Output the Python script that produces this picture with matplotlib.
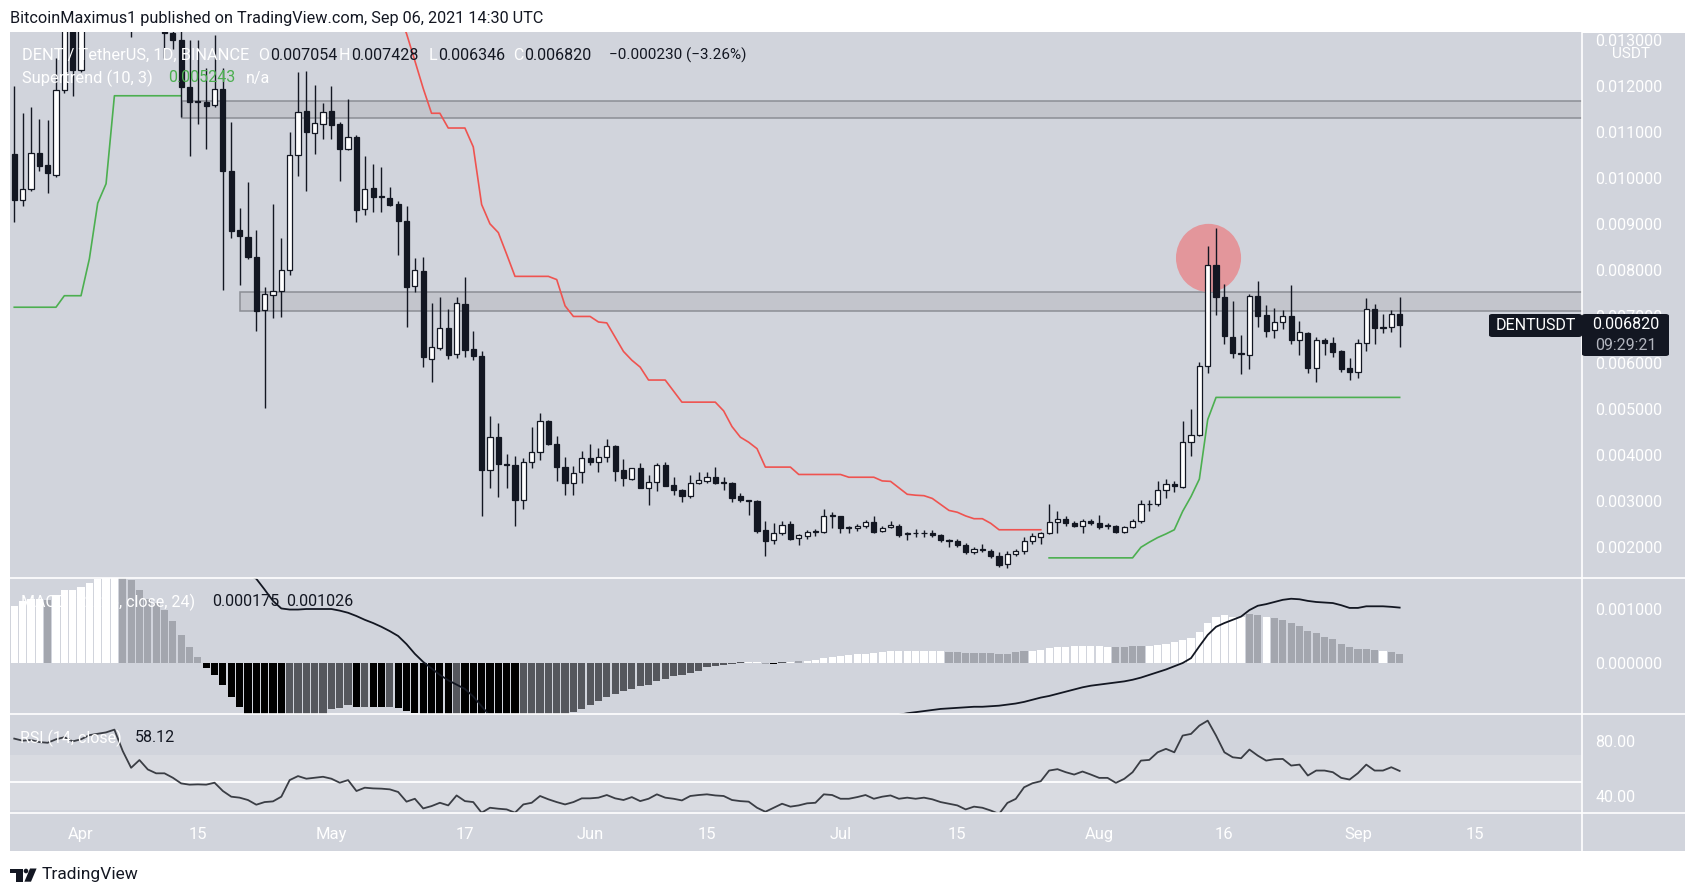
import numpy as np
import pandas as pd
import matplotlib
matplotlib.use("Agg")
import matplotlib.pyplot as plt
from matplotlib.patches import Rectangle, Ellipse, Polygon, Circle, FancyBboxPatch
from matplotlib.lines import Line2D

W, H = 1695, 889
plt.rcParams['font.family'] = ['Roboto', 'DejaVu Sans']

# ---- data (prices in 1e-3 USDT), one bar per day from 2021-03-24 to 2021-09-06 ----
start = "2021-03-24"
n_days = 167

opens = [10.53, 9.52, 9.77, 10.55, 10.28, 10.07, 11.91, 13.50,
         # April
         12.35, 13.70, 14.80, 15.50, 16.40, 17.00, 15.00, 13.60, 14.30, 13.80,
         14.00, 13.15, 13.00, 11.97, 11.66, 11.66, 11.59, 11.93, 10.15, 8.87,
         8.73, 8.30, 7.13, 7.47, 7.56, 8.00, 10.51, 11.45, 10.98, 11.17,
         # May
         11.45, 11.17, 10.64, 10.90, 9.33, 9.79, 9.60, 9.58, 9.43, 9.08,
         7.67, 7.98, 6.07, 6.31, 6.75, 6.18, 7.28, 6.30, 6.15, 3.66,
         4.38, 3.80, 3.78, 3.01, 3.83, 4.05, 4.74, 4.23, 3.74, 3.38, 3.62,
         # June
         3.93, 3.85, 3.95, 4.19, 3.66, 3.47, 3.71, 3.28, 3.41, 3.77,
         3.34, 3.24, 3.11, 3.39, 3.43, 3.52, 3.39, 3.38, 3.10, 3.00,
         2.99, 2.37, 2.14, 2.31, 2.50, 2.20, 2.24, 2.33, 2.33, 2.69,
         # July
         2.66, 2.41, 2.41, 2.45, 2.54, 2.35, 2.43, 2.46, 2.27, 2.29,
         2.29, 2.30, 2.26, 2.14, 2.13, 2.05, 1.88, 1.95, 1.91, 1.81,
         1.63, 1.84, 1.90, 2.13, 2.22, 2.29, 2.54, 2.61, 2.51, 2.46, 2.57,
         # August
         2.52, 2.45, 2.45, 2.33, 2.44, 2.56, 2.92, 2.92, 3.24, 3.37,
         3.29, 4.28, 4.42, 5.92, 8.12, 7.43, 6.56, 6.20, 6.16, 7.45,
         7.03, 6.71, 6.88, 7.01, 6.48, 6.63, 5.88, 6.48, 6.43, 6.25, 5.88,
         # September
         5.80, 6.43, 7.17, 6.77, 6.77, 7.054]
highs = [12.01, 11.42, 11.54, 11.28, 11.26, 12.61, 14.10, 13.90,
         14.30, 15.20, 16.00, 17.20, 17.60, 17.30, 15.40, 14.80, 14.60, 14.30,
         14.30, 13.40, 13.30, 12.99, 12.99, 12.39, 13.10, 12.39, 11.21, 9.35,
         9.92, 8.88, 7.64, 9.43, 8.71, 11.00, 12.31, 12.32, 12.02, 11.63,
         12.00, 11.21, 11.72, 10.94, 10.49, 10.30, 10.24, 9.80, 9.50, 9.39,
         8.27, 8.29, 7.30, 7.42, 7.17, 7.42, 7.85, 6.69, 6.25, 4.85,
         4.68, 4.02, 3.98, 3.93, 4.61, 4.91, 4.76, 4.40, 3.95, 3.75, 4.08,
         4.23, 4.15, 4.33, 4.20, 3.90, 3.72, 3.81, 3.55, 3.81, 3.85,
         3.52, 3.25, 3.55, 3.62, 3.62, 3.73, 3.52, 3.41, 3.17, 3.02,
         3.01, 2.56, 2.52, 2.56, 2.56, 2.27, 2.37, 2.39, 2.83, 2.76,
         2.67, 2.46, 2.50, 2.58, 2.67, 2.46, 2.56, 2.50, 2.33, 2.38,
         2.37, 2.37, 2.27, 2.16, 2.16, 2.08, 2.00, 2.06, 1.95, 1.88,
         1.91, 1.95, 2.22, 2.29, 2.33, 2.94, 2.77, 2.66, 2.56, 2.60, 2.60,
         2.69, 2.52, 2.48, 2.46, 2.61, 3.01, 3.01, 3.42, 3.47, 3.43,
         4.72, 5.00, 6.01, 8.53, 8.93, 7.70, 7.34, 6.60, 7.49, 7.76,
         7.24, 7.19, 7.13, 7.68, 6.91, 6.66, 6.56, 6.54, 6.56, 6.28, 6.09,
         6.50, 7.39, 7.28, 7.06, 7.15, 7.428]
lows = [9.05, 9.39, 9.73, 10.15, 9.69, 10.03, 11.85, 11.78,
        12.30, 13.40, 14.20, 15.00, 15.80, 14.60, 13.07, 13.30, 13.50, 13.40,
        12.60, 12.80, 11.32, 10.49, 11.17, 10.64, 11.55, 7.57, 8.71, 7.68,
        8.25, 6.69, 5.01, 6.96, 6.98, 7.91, 10.05, 9.73, 10.53, 10.85,
        10.85, 9.94, 10.62, 9.06, 9.21, 9.26, 9.26, 9.39, 8.33, 6.77,
        7.53, 5.90, 5.57, 6.28, 6.07, 6.10, 6.13, 6.05, 2.67, 3.27,
        3.09, 3.27, 2.46, 2.83, 3.70, 3.89, 4.20, 3.43, 3.13, 3.13, 3.39,
        3.77, 3.62, 3.85, 3.43, 3.32, 3.46, 3.27, 2.90, 3.22, 3.31,
        3.13, 2.98, 3.05, 3.36, 3.39, 3.36, 3.24, 2.98, 2.98, 2.69,
        2.29, 1.80, 2.07, 2.26, 2.14, 2.05, 2.18, 2.23, 2.29, 2.41,
        2.29, 2.29, 2.35, 2.41, 2.29, 2.33, 2.41, 2.22, 2.14, 2.22,
        2.22, 2.22, 2.10, 1.99, 2.00, 1.85, 1.84, 1.88, 1.76, 1.57,
        1.55, 1.80, 1.85, 2.07, 2.07, 2.27, 2.31, 2.46, 2.43, 2.29, 2.48,
        2.38, 2.38, 2.29, 2.31, 2.41, 2.52, 2.77, 2.89, 3.05, 3.20,
        3.28, 3.98, 4.40, 5.77, 7.04, 6.41, 6.09, 5.75, 5.86, 6.77,
        6.56, 6.54, 6.73, 6.41, 6.16, 5.77, 5.57, 6.16, 6.13, 5.80, 5.62,
        5.67, 6.25, 6.41, 6.63, 6.66, 6.346]
closes = [9.52, 9.77, 10.55, 10.26, 10.11, 11.91, 13.50, 12.35,
          13.70, 14.80, 15.50, 16.40, 17.00, 15.00, 13.60, 14.30, 13.80, 14.00,
          13.15, 13.00, 11.97, 11.66, 11.65, 11.57, 11.93, 10.15, 8.86, 8.74,
          8.30, 7.11, 7.48, 7.56, 8.00, 10.50, 11.44, 11.00, 11.19, 11.44,
          11.16, 10.64, 10.90, 9.31, 9.77, 9.60, 9.59, 9.41, 9.08, 7.64,
          8.00, 6.11, 6.33, 6.75, 6.16, 7.30, 6.28, 6.14, 3.66, 4.38,
          3.80, 3.78, 3.01, 3.83, 4.05, 4.72, 4.23, 3.74, 3.38, 3.60, 3.93,
          3.85, 3.96, 4.19, 3.64, 3.49, 3.70, 3.28, 3.41, 3.77, 3.32,
          3.24, 3.11, 3.39, 3.45, 3.52, 3.39, 3.38, 3.07, 3.01, 2.99,
          2.35, 2.13, 2.31, 2.48, 2.18, 2.26, 2.33, 2.32, 2.67, 2.66,
          2.41, 2.40, 2.46, 2.54, 2.33, 2.41, 2.48, 2.26, 2.29, 2.29,
          2.29, 2.26, 2.14, 2.13, 2.03, 1.88, 1.95, 1.94, 1.80, 1.61,
          1.84, 1.91, 2.13, 2.23, 2.29, 2.54, 2.61, 2.51, 2.46, 2.57, 2.51,
          2.43, 2.45, 2.33, 2.43, 2.57, 2.92, 2.93, 3.24, 3.36, 3.32,
          4.28, 4.42, 5.92, 8.12, 7.43, 6.58, 6.20, 6.18, 7.45, 7.01,
          6.68, 6.88, 7.01, 6.48, 6.66, 5.88, 6.48, 6.43, 6.22, 5.86, 5.80,
          6.43, 7.17, 6.75, 6.75, 7.05, 6.820]

# Supertrend (10, 3) value per day; trend flips to down on day 13 and back up on day 116
supertrend = [7.20, 7.20, 7.20, 7.20, 7.20, 7.20, 7.45, 7.45,
              7.45, 8.25, 9.46, 9.88, 11.79, 11.79, 11.79, 11.79, 11.79, 11.79,
              11.79, 11.79, 11.79, 16.8, 16.8, 16.8, 16.8, 16.3, 16.3, 16.3,
              16.3, 15.4, 15.4, 15.4, 15.4, 15.0, 15.0, 15.0, 15.0, 15.0,
              15.0, 14.6, 14.6, 14.6, 14.6, 14.6, 14.2, 13.9, 13.6, 13.14,
              12.55, 11.95, 11.41, 11.41, 11.09, 11.09, 11.09, 10.68, 9.43, 9.01,
              8.82, 8.35, 7.87, 7.87, 7.87, 7.87, 7.87, 7.80, 7.23, 7.00, 7.00,
              7.00, 6.88, 6.86, 6.55, 6.24, 6.05, 5.90, 5.62, 5.62, 5.62,
              5.38, 5.14, 5.14, 5.14, 5.14, 5.14, 4.95, 4.61, 4.38, 4.27,
              4.13, 3.73, 3.73, 3.73, 3.73, 3.57, 3.57, 3.57, 3.57, 3.57,
              3.57, 3.51, 3.51, 3.51, 3.51, 3.43, 3.42, 3.28, 3.14, 3.12,
              3.11, 3.05, 2.92, 2.79, 2.75, 2.67, 2.61, 2.61, 2.51, 2.37,
              2.37, 2.37, 2.37, 2.37, 2.37, 1.76, 1.76, 1.76, 1.76, 1.76, 1.76,
              1.76, 1.76, 1.76, 1.76, 1.76, 1.99, 2.10, 2.20, 2.28, 2.37,
              2.77, 3.09, 3.47, 4.76, 5.243, 5.243, 5.243, 5.243, 5.243, 5.243,
              5.243, 5.243, 5.243, 5.243, 5.243, 5.243, 5.243, 5.243, 5.243, 5.243, 5.243,
              5.243, 5.243, 5.243, 5.243, 5.243, 5.243]
flip_down, flip_up = 13, 116

# MACD panel (values in 1e-3)
macd_line = [2.20, 2.30, 2.40, 2.45, 2.50, 2.60, 2.75, 2.85,
             2.95, 3.05, 3.10, 3.15, 3.20, 3.10, 2.95, 2.85, 2.70, 2.55,
             2.40, 2.28, 2.18, 2.08, 2.00, 1.92, 1.85, 1.79, 1.74, 1.70,
             1.64, 1.56, 1.36, 1.15, 1.01, 0.99, 0.99, 1.00, 1.00, 1.00,
             1.00, 0.97, 0.93, 0.87, 0.80, 0.74, 0.67, 0.59, 0.50, 0.35,
             0.17, 0.02, -0.10, -0.22, -0.32, -0.40, -0.48, -0.62, -0.80, -0.98,
             -1.10, -1.20, -1.30, -1.38, -1.45, -1.50, -1.53, -1.56, -1.58, -1.59, -1.60,
             -1.60, -1.59, -1.58, -1.56, -1.54, -1.52, -1.50, -1.47, -1.44, -1.41,
             -1.38, -1.35, -1.32, -1.29, -1.26, -1.23, -1.20, -1.18, -1.16, -1.14,
             -1.13, -1.12, -1.11, -1.10, -1.09, -1.08, -1.07, -1.06, -1.05, -1.04,
             -1.03, -1.02, -1.01, -1.00, -0.99, -0.98, -0.97, -0.96, -0.93, -0.91,
             -0.89, -0.87, -0.85, -0.84, -0.83, -0.82, -0.81, -0.81, -0.80, -0.79,
             -0.77, -0.75, -0.72, -0.68, -0.64, -0.61, -0.57, -0.53, -0.49, -0.45, -0.42,
             -0.40, -0.38, -0.36, -0.34, -0.31, -0.27, -0.22, -0.17, -0.12, -0.06,
             0.00, 0.09, 0.31, 0.52, 0.67, 0.74, 0.80, 0.86, 0.98, 1.06,
             1.09, 1.13, 1.17, 1.19, 1.18, 1.15, 1.13, 1.12, 1.11, 1.07, 1.02,
             1.02, 1.05, 1.05, 1.05, 1.04, 1.026]
macd_hist = [1.06, 1.15, 1.18, 1.18, 1.17, 1.25, 1.35, 1.36,
             1.41, 1.49, 1.56, 1.62, 1.65, 1.62, 1.54, 1.36, 1.19, 1.12,
             0.98, 0.77, 0.52, 0.30, 0.11, -0.09, -0.22, -0.41, -0.63, -0.81,
             -1.00, -1.08, -1.14, -1.18, -1.20, -1.15, -1.10, -1.04, -0.98, -0.94,
             -0.86, -0.83, -0.78, -0.81, -0.81, -0.82, -0.82, -0.82, -0.83, -0.88,
             -0.92, -1.00, -1.06, -1.10, -1.12, -1.10, -1.13, -1.16, -1.25, -1.30,
             -1.33, -1.35, -1.36, -1.34, -1.30, -1.25, -1.20, -1.12, -1.02, -0.91, -0.86,
             -0.77, -0.71, -0.63, -0.57, -0.52, -0.48, -0.43, -0.40, -0.34, -0.29,
             -0.24, -0.22, -0.18, -0.14, -0.08, -0.06, -0.03, -0.02, 0.02, 0.02,
             0.015, -0.02, -0.02, 0.01, 0.01, 0.03, 0.03, 0.05, 0.09, 0.11,
             0.13, 0.14, 0.16, 0.17, 0.19, 0.20, 0.22, 0.22, 0.22, 0.22,
             0.22, 0.22, 0.22, 0.20, 0.20, 0.19, 0.18, 0.18, 0.18, 0.17,
             0.17, 0.20, 0.22, 0.23, 0.25, 0.27, 0.29, 0.30, 0.31, 0.32, 0.32,
             0.32, 0.30, 0.30, 0.30, 0.32, 0.32, 0.32, 0.34, 0.36, 0.38,
             0.42, 0.46, 0.57, 0.74, 0.85, 0.88, 0.86, 0.85, 0.90, 0.88,
             0.86, 0.83, 0.80, 0.74, 0.69, 0.60, 0.56, 0.49, 0.44, 0.36, 0.30,
             0.26, 0.26, 0.25, 0.22, 0.21, 0.175]
# w = white (rising above 0), g = grey (falling above 0), b = black (falling below 0), d = dark grey (rising below 0)
hist_kind = ("wwwwgwww"
             "wwwwwggggg" "gggggbbbbb" "bbbbbddddd"
             "dddbdbbdbb" "bbbbbdbbbb" "bbbddddddd" "d"
             "dddddddddd" "dddddddddwwgbdwgwwwww"
             "wwwwwwwwww" "wwggggggggg" "gwwwwwwwwww"
             "ggggwwwwww" "wwwwwwggwg" "ggggggggggg"
             "gwgggg")

rsi = [81.5, 80.0, 80.5, 79.0, 78.5, 81.0, 82.5, 79.5,
       81.0, 84.0, 85.0, 86.0, 88.0, 72.5, 60.4, 66.0, 59.2, 56.4,
       56.4, 53.2, 49.1, 48.2, 48.4, 48.2, 49.6, 43.6, 39.5, 38.8,
       37.1, 33.7, 35.6, 36.1, 39.5, 51.5, 54.4, 52.5, 53.2, 53.9,
       52.5, 49.6, 51.5, 43.6, 46.0, 45.5, 45.3, 44.8, 42.9, 35.9,
       38.0, 31.0, 32.7, 35.1, 33.2, 40.4, 36.3, 35.6, 27.9, 31.5,
       30.8, 30.3, 27.9, 33.9, 35.1, 40.0, 37.6, 35.6, 33.9, 35.6, 38.3,
       38.3, 38.8, 40.7, 38.3, 37.1, 39.2, 36.3, 38.0, 41.2, 38.8,
       38.0, 36.8, 40.0, 40.7, 41.2, 40.4, 40.0, 37.1, 36.3, 35.9,
       31.5, 28.6, 31.5, 34.4, 32.3, 33.2, 34.7, 35.1, 41.2, 40.7,
       38.0, 38.0, 39.2, 40.7, 38.0, 39.5, 40.4, 38.0, 38.8, 38.0,
       38.8, 37.6, 35.6, 34.4, 33.2, 30.3, 32.3, 31.5, 29.5, 27.0,
       35.0, 37.9, 46.3, 49.2, 50.7, 58.4, 59.4, 57.2, 55.5, 57.7, 55.5,
       53.1, 53.1, 49.5, 52.4, 57.2, 65.6, 66.1, 71.6, 74.1, 71.6,
       83.7, 84.9, 90.9, 94.5, 83.7, 71.6, 68.0, 67.3, 73.6, 69.2,
       65.6, 66.6, 66.8, 62.0, 62.7, 54.8, 58.4, 58.4, 57.2, 53.1, 51.9,
       56.5, 62.7, 58.4, 58.4, 60.8, 58.12]

tick_dates = ["2021-04-01", "2021-04-15", "2021-05-01", "2021-05-17", "2021-06-01", "2021-06-15",
              "2021-07-01", "2021-07-15", "2021-08-01", "2021-08-16", "2021-09-01", "2021-09-15"]
tick_labels = ["Apr", "15", "May", "17", "Jun", "15", "Jul", "15", "Aug", "16", "Sep", "15"]
price_ticks = [2, 3, 4, 5, 6, 7, 8, 9, 10, 11, 12, 13]

zones = [(12.06, 11.30, 11.68), (19.05, 7.11, 7.53)]   # start day, low, high
highlight = (135.1, 8.27)

# ---- layout ----
ref = pd.Timestamp("2021-04-01")
dates = pd.date_range(start, periods=n_days, freq="D")
day = np.array([(t - ref).days for t in dates])
tick_days = [(pd.Timestamp(t) - ref).days for t in tick_dates]

BG = '#d1d4dc'
DARK = '#131722'


def fbox(x0, y0, x1, y1):
    return [x0 / W, 1 - y1 / H, (x1 - x0) / W, (y1 - y0) / H]


def ftext(x, y, s, color=DARK, size=11.5, ha='left', **kw):
    fig.text(x / W, 1 - y / H, s, color=color, fontsize=size, ha=ha, va='center', **kw)


fig = plt.figure(figsize=(W / 100, H / 100), dpi=100)
fig.patch.set_facecolor('white')
fig.patches.append(Rectangle((10 / W, 1 - 851 / H), 1675 / W, 819 / H, transform=fig.transFigure,
                             fc=BG, ec='none', zorder=-5))

ax = fig.add_axes(fbox(10, 32, 1582, 578))
axm = fig.add_axes(fbox(10, 578, 1582, 714))
axr = fig.add_axes(fbox(10, 714, 1582, 813))
for a in (ax, axm, axr):
    a.set_facecolor('none')
    for s in a.spines.values():
        s.set_visible(False)
    a.set_xlim(-8.51, 179.85)
    a.yaxis.tick_right()
    a.tick_params(axis='y', length=0, pad=9.5, labelcolor='white', labelsize=11.5)
    a.tick_params(axis='x', length=0)
ax.set_xticks([])
axm.set_xticks([])

# main price panel
o = np.array(opens); h = np.array(highs); l = np.array(lows); c = np.array(closes)
up = c >= o
ax.vlines(day, l, h, color=DARK, lw=1.0, zorder=3)
body_lo = np.minimum(o, c)
body_h = np.maximum(np.abs(c - o), 0.02)
ax.bar(day, body_h, bottom=body_lo, width=0.62, color=np.where(up, 'white', DARK),
       edgecolor=DARK, linewidth=0.9, zorder=4)

for x0, lo, hi in zones:
    ax.add_patch(Rectangle((x0, lo), 400, hi - lo, fc='#c3c5cc', ec='#8b8e95', lw=1.1, zorder=1))

ax.add_patch(Ellipse(highlight, 7.8, 1.48, fc='#e3969b', ec='none', zorder=2))

st = np.array(supertrend)
is_up = (day < flip_down) | (day >= flip_up)
ax.plot(day, np.where(is_up, st, np.nan), color='#4caf50', lw=1.2, zorder=2.5)
ax.plot(day, np.where(~is_up, st, np.nan), color='#ef5350', lw=1.2, zorder=2.5)

ax.set_ylim(1.323, 13.174)
ax.set_yticks(price_ticks)
ax.set_yticklabels([f"{v / 1000:.6f}" for v in price_ticks])

# MACD panel
kind_color = {'w': 'white', 'g': '#a3a6ae', 'b': '#000000', 'd': '#55575d'}
axm.bar(day, macd_hist, width=0.86, color=[kind_color[k] for k in hist_kind], zorder=2)
axm.plot(day, macd_line, color=DARK, lw=1.3, zorder=3)
axm.set_ylim(-0.944, 1.574)
axm.set_yticks([0, 1])
axm.set_yticklabels(["0.000000", "0.001000"])

# RSI panel
axr.axhspan(30, 70, fc='#d9dbe1', ec='none', zorder=0)
axr.axhline(50, color='white', lw=1.3, zorder=1)
axr.plot(day, rsi, color='#3a3d44', lw=1.3, zorder=3)
axr.set_ylim(27.7, 99.3)
axr.set_yticks([40, 80])
axr.set_yticklabels(["40.00", "80.00"])
axr.set_xticks(tick_days)
axr.set_xticklabels(tick_labels)
axr.tick_params(axis='x', pad=10, labelcolor='white', labelsize=12)

# separators
for yy in (578, 714, 813):
    fig.lines.append(Line2D([10 / W, 1685 / W], [1 - yy / H] * 2, transform=fig.transFigure,
                            color='white', lw=1.2, zorder=6))
fig.lines.append(Line2D([1582 / W] * 2, [1 - 32 / H, 1 - 851 / H], transform=fig.transFigure,
                        color='white', lw=1.2, zorder=6))
fig.patches.append(Rectangle((1582 / W, 1 - 33 / H), 113 / W, 33 / H, transform=fig.transFigure,
                             fc='white', ec='none', zorder=7))

# header and legends
ftext(10, 18, "BitcoinMaximus1 published on TradingView.com, Sep 06, 2021 14:30 UTC", size=11.7)
ftext(21.5, 55, "DENT / TetherUS, 1D, BINANCE", color='white', size=11.8)
for x, lab, val in [(270, "O", "0.007054"), (351, "H", "0.007428"), (438, "L", "0.006346"), (524, "C", "0.006820")]:
    ftext(x - 1, 55, lab, color='white', size=11.5, ha='right')
    ftext(x, 55, val)
ftext(609, 55, "\u22120.000230 (\u22123.26%)", size=11)
ftext(21.5, 78, "Supertrend (10, 3)", color='white', size=11.8)
ftext(168, 78, "0.005243", color='#4caf50')
ftext(246, 78, "n/a", color='white')
ftext(20.7, 602, "MACD (12, 26, close, 24)", color='white')
ftext(212, 602, "0.000175")
ftext(286, 602, "0.001026")
ftext(20, 738, "RSI (14, close)", color='white')
ftext(135, 738, "58.12")
ftext(1631, 54, "USDT", color='white', size=11, ha='center')

# last price tags
fig.patches.append(FancyBboxPatch((1489 / W, 1 - 337 / H), 93 / W, 23 / H, boxstyle="round,pad=0,rounding_size=0.002",
                                  transform=fig.transFigure, fc=DARK, ec='none', zorder=8))
fig.patches.append(FancyBboxPatch((1582 / W, 1 - 356 / H), 87 / W, 42 / H, boxstyle="round,pad=0,rounding_size=0.002",
                                  transform=fig.transFigure, fc=DARK, ec='none', zorder=8))
for x, y, s, col in [(1535.5, 325.5, "DENTUSDT", 'white'), (1625.5, 325, "0.006820", 'white'),
                     (1625.5, 346, "09:29:21", '#b2b5be')]:
    fig.text(x / W, 1 - y / H, s, color=col, fontsize=11.5, ha='center', va='center', zorder=9)

# TradingView logo
lax = fig.add_axes(fbox(8, 864, 40, 886))
lax.set_xlim(8, 40)
lax.set_ylim(886, 864)
lax.axis('off')
lax.add_patch(Rectangle((9.6, 868.5), 13.0, 4.5, fc=DARK, ec='none'))
lax.add_patch(Rectangle((16.0, 868.5), 6.5, 13.2, fc=DARK, ec='none'))
lax.add_patch(Circle((26.0, 871.0), 2.3, fc=DARK, ec='none'))
lax.add_patch(Polygon([(30.0, 868.5), (36.6, 868.5), (31.0, 881.7), (24.4, 881.7)], fc=DARK, ec='none'))
ftext(42, 875, "TradingView", size=12.5)

fig.savefig("out.png", dpi=100)
